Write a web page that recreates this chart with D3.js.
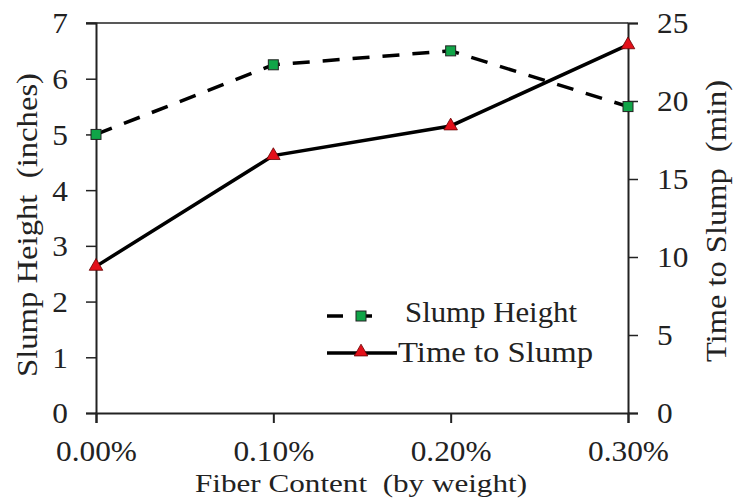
<!DOCTYPE html>
<html><head><meta charset="utf-8">
<script src="https://cdn.jsdelivr.net/npm/d3@7/dist/d3.min.js"></script>
<style>body{margin:0;background:#fff}svg{display:block}text{font-family:"Liberation Serif","Times New Roman",serif;fill:#222;white-space:pre}</style>
</head><body>
<script>
const categories = ["0.00%", "0.10%", "0.20%", "0.30%"];
const slumpHeight = [5.0, 6.25, 6.5, 5.5];
const timeToSlump = [9.4, 16.5, 18.4, 23.6];
const leftTicks = [0, 1, 2, 3, 4, 5, 6, 7];
const rightTicks = [0, 5, 10, 15, 20, 25];

const W = 733, H = 498;
const m = {left: 96, right: 105, top: 23, bottom: 85};
const svg = d3.select("body").append("svg").attr("width", W).attr("height", H);

const x = d3.scalePoint().domain(categories).range([m.left, W - m.right]);
const yL = d3.scaleLinear().domain([0, 7]).range([H - m.bottom, m.top]);
const yR = d3.scaleLinear().domain([0, 25]).range([H - m.bottom, m.top]);
const fs = 29;
const stretch = 1.08;
function widen(sel) {
  sel.each(function () {
    const w = this.getComputedTextLength();
    d3.select(this).attr("textLength", w * stretch).attr("lengthAdjust", "spacingAndGlyphs");
  });
}
function fit(len) {
  return sel => sel.attr("textLength", len).attr("lengthAdjust", "spacingAndGlyphs");
}

// top frame line
svg.append("line").attr("x1", m.left - 10).attr("x2", W - m.right)
  .attr("y1", m.top).attr("y2", m.top).attr("stroke", "#222").attr("stroke-width", 1.5);

const gL = svg.append("g").attr("transform", `translate(${m.left},0)`)
  .call(d3.axisLeft(yL).tickValues(leftTicks).tickFormat(d3.format("d")).tickSize(10).tickPadding(18));
const gR = svg.append("g").attr("transform", `translate(${W - m.right},0)`)
  .call(d3.axisRight(yR).tickValues(rightTicks).tickFormat(d3.format("d")).tickSize(10).tickPadding(19));
const gB = svg.append("g").attr("transform", `translate(0,${H - m.bottom})`)
  .call(d3.axisBottom(x).tickSize(10).tickPadding(18));
[gL, gR, gB].forEach(g => {
  g.selectAll("path.domain").attr("stroke", "#222").attr("stroke-width", 2);
  g.selectAll(".tick line").attr("stroke", "#222").attr("stroke-width", 1.5);
  g.selectAll("text").style("font-size", fs + "px").attr("fill", "#222")
    .style("font-family", '"Liberation Serif","Times New Roman",serif');
});
gB.selectAll(".tick line").attr("stroke-width", 2);
gL.selectAll(".tick text").attr("dy", "0.34em");
gR.selectAll(".tick text").attr("dy", "0.34em");
gB.selectAll(".tick text").attr("y", 48).attr("dy", 0);
widen(gL.selectAll(".tick text"));
widen(gR.selectAll(".tick text"));
widen(gB.selectAll(".tick text"));

// axis titles
svg.append("text").attr("transform", `translate(37,225) rotate(-90)`)
  .attr("text-anchor", "middle").style("font-size", fs + "px").text("Slump Height  (inches)").call(fit(304));
svg.append("text").attr("transform", `translate(726,221) rotate(-90)`)
  .attr("text-anchor", "middle").style("font-size", fs + "px").text("Time to Slump  (min)").call(fit(282));
svg.append("text").attr("x", 361).attr("y", 492)
  .attr("text-anchor", "middle").style("font-size", "26px").text("Fiber Content  (by weight)")
  .call(fit(332));

// lines
const lineL = d3.line().x((d, i) => x(categories[i])).y(d => yL(d));
const lineR = d3.line().x((d, i) => x(categories[i])).y(d => yR(d));
svg.append("path").datum(slumpHeight).attr("d", lineL).attr("fill", "none")
  .attr("stroke", "#000").attr("stroke-width", 3.5).attr("stroke-dasharray", "17,13");
svg.append("path").datum(timeToSlump).attr("d", lineR).attr("fill", "none")
  .attr("stroke", "#000").attr("stroke-width", 3.5);

const sq = 10;
svg.selectAll("rect.sh").data(slumpHeight).enter().append("rect").attr("class", "sh")
  .attr("x", (d, i) => x(categories[i]) - sq / 2).attr("y", d => yL(d) - sq / 2)
  .attr("width", sq).attr("height", sq).attr("fill", "#10a548").attr("stroke", "#222").attr("stroke-width", 1);
const tri = d3.symbol().type(d3.symbolTriangle).size(80);
svg.selectAll("path.ts").data(timeToSlump).enter().append("path").attr("class", "ts")
  .attr("d", tri).attr("transform", (d, i) => `translate(${x(categories[i])},${yR(d)})`)
  .attr("fill", "#e3101a").attr("stroke", "#600").attr("stroke-width", 0.8);

// legend
const lg = svg.append("g");
lg.append("line").attr("x1", 327).attr("x2", 378).attr("y1", 316).attr("y2", 316)
  .attr("stroke", "#000").attr("stroke-width", 3.5).attr("stroke-dasharray", "16,13");
lg.append("rect").attr("x", 356).attr("y", 311).attr("width", sq).attr("height", sq)
  .attr("fill", "#10a548").attr("stroke", "#222").attr("stroke-width", 1);
lg.append("text").attr("x", 405).attr("y", 322).style("font-size", fs + "px").text("Slump Height").call(fit(172));
lg.append("line").attr("x1", 327).attr("x2", 397).attr("y1", 353).attr("y2", 353)
  .attr("stroke", "#000").attr("stroke-width", 3.5);
lg.append("path").attr("d", tri).attr("transform", "translate(361,352)")
  .attr("fill", "#e3101a").attr("stroke", "#600").attr("stroke-width", 0.8);
lg.append("text").attr("x", 398).attr("y", 362).style("font-size", fs + "px").text("Time to Slump").call(fit(195));
</script>
</body></html>
